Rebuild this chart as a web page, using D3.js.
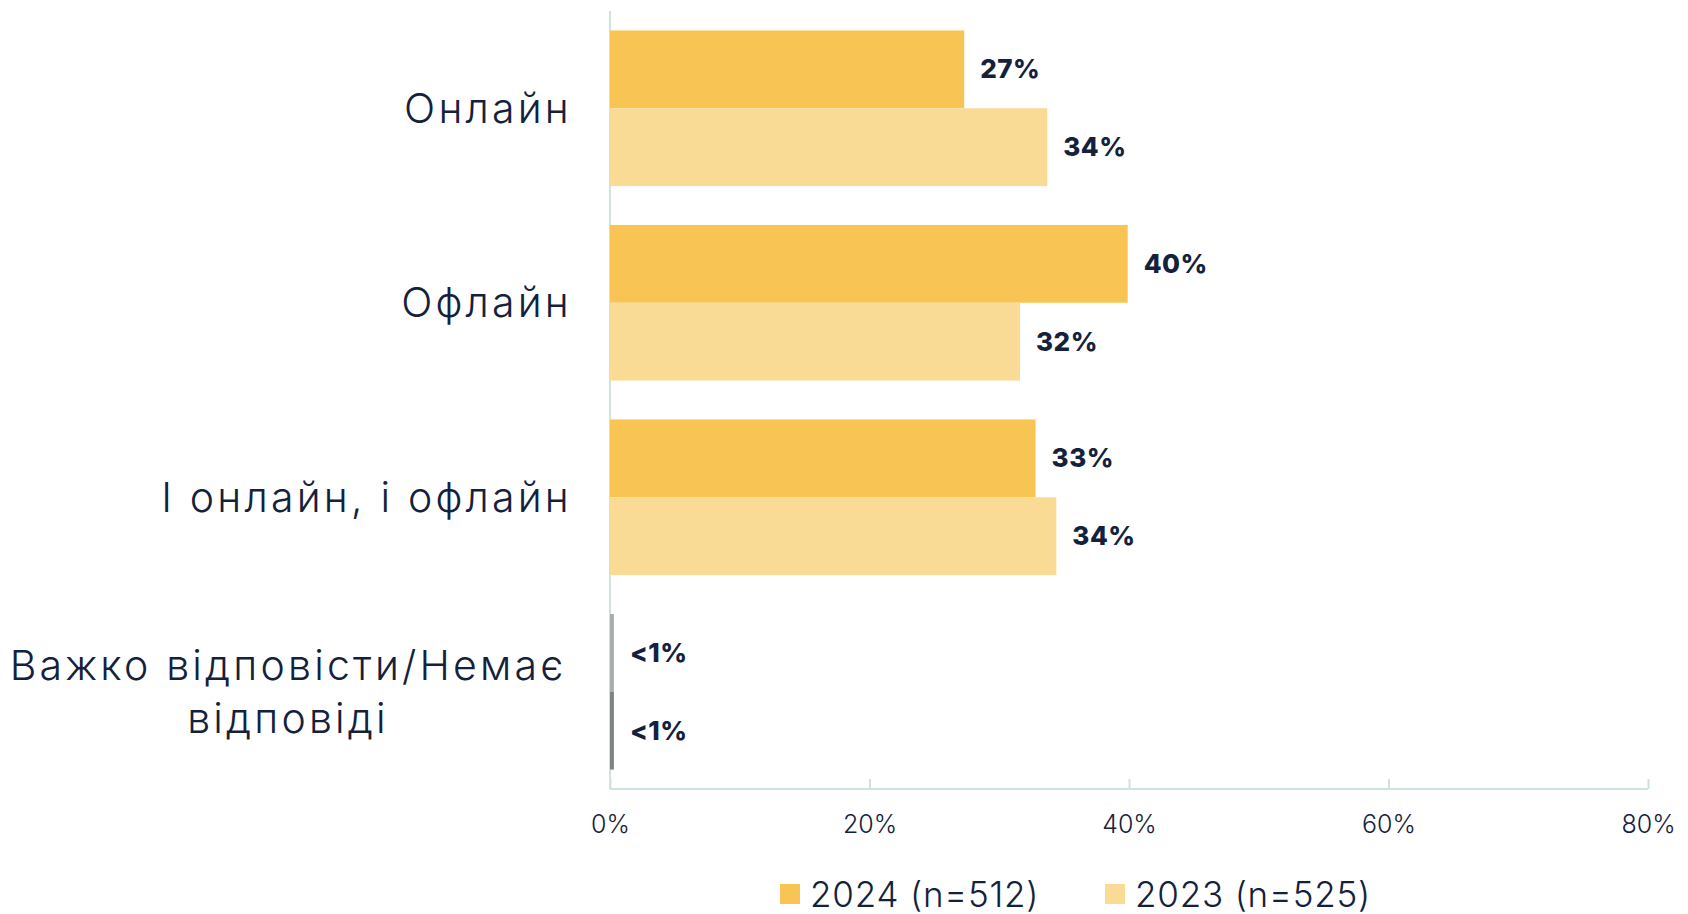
<!DOCTYPE html>
<html>
<head>
<meta charset="utf-8">
<script src="https://cdn.jsdelivr.net/npm/d3@7"></script>
<style>
  body { margin: 0; background: #fff; }
  svg text { font-family: Inter, "Noto Sans", sans-serif; fill: #14213d; }
</style>
</head>
<body>
<svg width="1688" height="914"></svg>
<script>
var categories = ["Онлайн", "Офлайн", "І онлайн, і офлайн", "Важко відповісти/Немає відповіді"],
    series = ["2024 (n=512)", "2023 (n=525)"],
    values2024 = [27.3, 39.9, 32.8, 0.3],
    values2023 = [33.7, 31.6, 34.4, 0.3],
    labels2024 = ["27%", "40%", "33%", "<1%"],
    labels2023 = ["34%", "32%", "34%", "<1%"],
    ticks = [0, 20, 40, 60, 80];

var svg = d3.select("svg"),
    plotL = 610, plotR = 1648, plotT = 11, plotB = 789;

var colors = ["#f8c453", "#f9db96"],
    smallColors = ["#a9aeab", "#7b8582"];

var x = d3.scaleLinear().domain([0, 80]).range([plotL, plotR]);
var y = d3.scaleBand().domain(categories).range([plotT, plotB]).paddingInner(0.2).paddingOuter(0.1);
var y1 = d3.scaleBand().domain([0, 1]).range([0, y.bandwidth()]);

var rows = categories.map(function(c, i) {
  return {cat: c, vals: [
    {s: 0, v: values2024[i], label: labels2024[i]},
    {s: 1, v: values2023[i], label: labels2023[i]}
  ]};
});

// axis lines
svg.append("line").attr("x1", plotL).attr("x2", plotL).attr("y1", plotT).attr("y2", plotB)
    .attr("stroke", "#cfe2e2").attr("stroke-width", 2);

var xAxis = svg.append("g").attr("transform", "translate(0," + plotB + ")")
    .call(d3.axisBottom(x).tickValues(ticks).tickSize(-10).tickPadding(26)
      .tickFormat(function(d) { return d + "%"; }));
xAxis.select(".domain").attr("stroke", "#cfe2e2").attr("stroke-width", 2).attr("d", "M" + plotL + ",0H" + plotR);
xAxis.selectAll(".tick line").attr("stroke", "#cfe2e2").attr("stroke-width", 2);
xAxis.selectAll(".tick text").attr("font-size", 25).attr("font-weight", 300)
    .style("font-family", "Inter, sans-serif").attr("fill", "#14213d");

var g = svg.selectAll(".grp").data(rows).enter().append("g")
    .attr("transform", function(d) { return "translate(0," + y(d.cat) + ")"; });

g.selectAll("rect").data(function(d) { return d.vals; }).enter().append("rect")
    .attr("x", x(0))
    .attr("y", function(d) { return y1(d.s); })
    .attr("height", y1.bandwidth())
    .attr("width", function(d) { return Math.max(3, x(d.v) - x(0)); })
    .attr("fill", function(d) { return d.v < 1 ? smallColors[d.s] : colors[d.s]; });

g.selectAll(".val").data(function(d) { return d.vals; }).enter().append("text")
    .attr("x", function(d) { return Math.max(x(d.v), x(0) + 4) + 16; })
    .attr("y", function(d) { return y1(d.s) + y1.bandwidth() / 2; })
    .attr("dy", "0.35em")
    .attr("font-size", 26).attr("font-weight", 800).attr("letter-spacing", 0.5)
    .text(function(d) { return d.label; });

// category labels
g.each(function(d) {
  var t = d3.select(this).append("text").attr("font-size", 41).attr("font-weight", 300)
      .attr("letter-spacing", 3.2);
  var cy = y.bandwidth() / 2;
  if (d.cat.indexOf("/") > -1) {
    var parts = ["Важко відповісти/Немає", "відповіді"];
    t.attr("text-anchor", "middle");
    parts.forEach(function(p, i) {
      t.append("tspan").attr("x", 288).attr("y", cy - 12 + i * 53).text(p);
    });
  } else {
    t.attr("text-anchor", "end").attr("x", 572).attr("y", cy).attr("dy", "0.35em").text(d.cat);
  }
});

// legend
var legend = svg.append("g").attr("transform", "translate(780,894)");
var lx = [0, 325];
series.forEach(function(s, i) {
  legend.append("rect").attr("x", lx[i]).attr("y", -10).attr("width", 20).attr("height", 20).attr("fill", colors[i]);
  legend.append("text").attr("x", lx[i] + 30).attr("y", 0).attr("dy", "0.36em")
      .attr("font-size", 35).attr("font-weight", 300).attr("letter-spacing", 0.8).text(s);
});
</script>
</body>
</html>
